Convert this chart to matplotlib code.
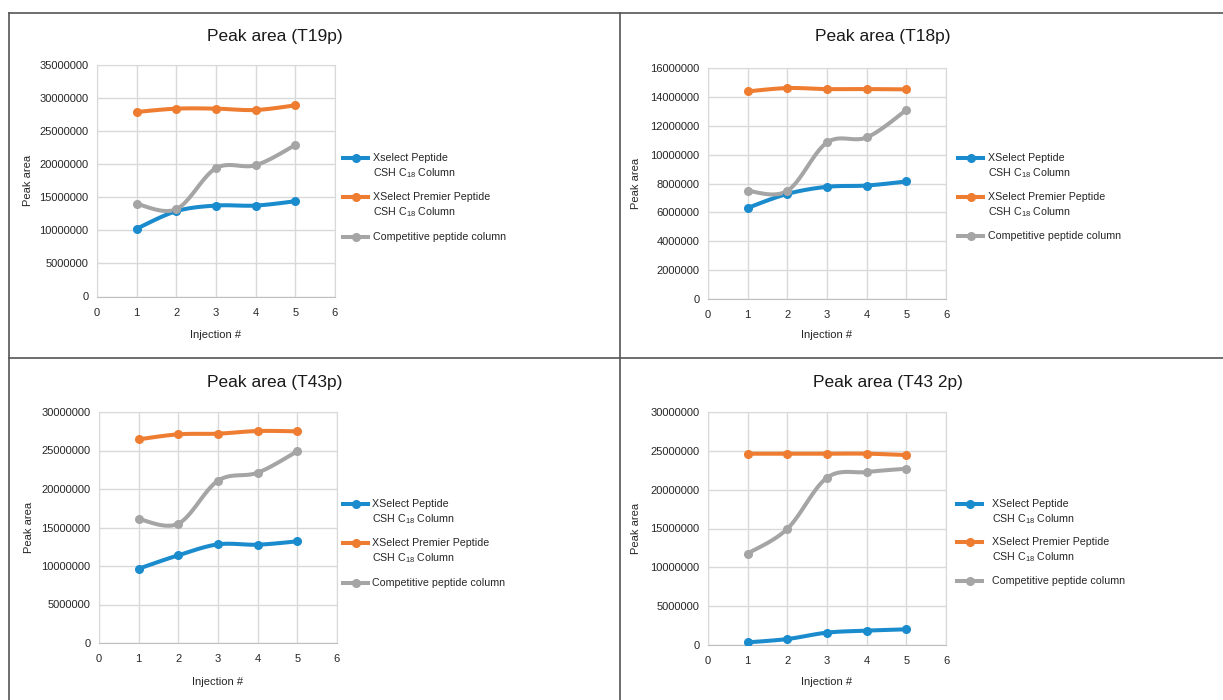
import numpy as np
import matplotlib
matplotlib.use("Agg")
import matplotlib.pyplot as plt
from matplotlib.lines import Line2D

plt.rcParams['font.family'] = ['Liberation Sans', 'DejaVu Sans']
plt.rcParams['mathtext.fontset'] = 'custom'
plt.rcParams['mathtext.rm'] = 'Liberation Sans'
plt.rcParams['mathtext.it'] = 'Liberation Sans'

# data
injections = [1, 2, 3, 4, 5]

titles = ['Peak area (T19p)', 'Peak area (T18p)', 'Peak area (T43p)', 'Peak area (T43 2p)']
y_max = [35000000, 16000000, 30000000, 30000000]
y_step = [5000000, 2000000, 5000000, 5000000]

t19p_xselect = [10250000, 12900000, 13750000, 13750000, 14400000]
t19p_premier = [27900000, 28400000, 28400000, 28200000, 28900000]
t19p_competitive = [14000000, 13200000, 19400000, 19850000, 22900000]

t18p_xselect = [6310000, 7280000, 7770000, 7860000, 8140000]
t18p_premier = [14380000, 14610000, 14540000, 14540000, 14520000]
t18p_competitive = [7490000, 7490000, 10840000, 11190000, 13090000]

t43p_xselect = [9650000, 11390000, 12810000, 12770000, 13200000]
t43p_premier = [26450000, 27100000, 27190000, 27530000, 27490000]
t43p_competitive = [16100000, 15500000, 21080000, 22120000, 24900000]

t43_2p_xselect = [340000, 770000, 1590000, 1850000, 2020000]
t43_2p_premier = [24630000, 24630000, 24630000, 24630000, 24460000]
t43_2p_competitive = [11780000, 14960000, 21540000, 22270000, 22700000]

panel_data = [
    (t19p_xselect, t19p_premier, t19p_competitive),
    (t18p_xselect, t18p_premier, t18p_competitive),
    (t43p_xselect, t43p_premier, t43p_competitive),
    (t43_2p_xselect, t43_2p_premier, t43_2p_competitive),
]

labels_first = ['Xselect Peptide', 'XSelect Peptide', 'XSelect Peptide', 'XSelect Peptide']
label_premier = 'XSelect Premier Peptide'
label_second = r'CSH C$_{\mathrm{18}}$ Column'
label_comp = 'Competitive peptide column'

colors = ['#1a8bcd', '#ee7d31', '#a5a5a5']

W, H = 1223, 700

# layout in pixels: axes (left, right, top, bottom)
axes_px = [(97, 335, 65, 296.5), (708, 946, 68, 299),
           (99, 337, 412, 643), (708, 946, 412, 645)]
title_px = [(275, 37), (883, 37), (275, 383), (888, 383)]
ylabel_x = [28, 636, 29, 636]
xlabel_y = [335, 335, 682, 682]
# legend: handle start x, text x, first-line y of each entry
legend_px = [(343, 373, [158, 197, 237]), (958, 988, [158, 197, 236]),
             (343, 372, [504, 543, 583]), (957, 992, [504, 542, 581])]


def fx(px):
    return px / W


def fy(py):
    return 1 - py / H


def smooth(x, y, n=30):
    # Excel style smoothed line (Catmull-Rom through the points)
    x = np.asarray(x, float)
    y = np.asarray(y, float)
    px = np.concatenate([[x[0]], x, [x[-1]]])
    py = np.concatenate([[y[0]], y, [y[-1]]])
    xs, ys = [], []
    for i in range(1, len(px) - 2):
        t = np.linspace(0, 1, n)
        b0x, b3x = px[i], px[i + 1]
        b0y, b3y = py[i], py[i + 1]
        b1x = b0x + (px[i + 1] - px[i - 1]) / 6
        b1y = b0y + (py[i + 1] - py[i - 1]) / 6
        b2x = b3x - (px[i + 2] - px[i]) / 6
        b2y = b3y - (py[i + 2] - py[i]) / 6
        xs.append((1 - t) ** 3 * b0x + 3 * (1 - t) ** 2 * t * b1x + 3 * (1 - t) * t ** 2 * b2x + t ** 3 * b3x)
        ys.append((1 - t) ** 3 * b0y + 3 * (1 - t) ** 2 * t * b1y + 3 * (1 - t) * t ** 2 * b2y + t ** 3 * b3y)
    return np.concatenate(xs), np.concatenate(ys)


fig = plt.figure(figsize=(W / 100, H / 100), dpi=100)

for k in range(4):
    l, r, t, b = axes_px[k]
    ax = fig.add_axes([fx(l), fy(b), fx(r - l), (b - t) / H])
    for series, c in zip(panel_data[k], colors):
        sx, sy = smooth(injections, series)
        ax.plot(sx, sy, color=c, lw=2.9, solid_capstyle='round', zorder=3)
        ax.plot(injections, series, 'o', color=c, ms=5.5, zorder=4)
    ax.set_xlim(0, 6)
    ax.set_ylim(0, y_max[k])
    ax.set_xticks(range(0, 7))
    ax.set_yticks(np.arange(0, y_max[k] + 1, y_step[k]))
    ax.yaxis.set_major_formatter(plt.FuncFormatter(lambda v, p: '%d' % v))
    ax.grid(True, color='#d9d9d9', lw=1.0)
    ax.set_axisbelow(True)
    for s in ax.spines.values():
        s.set_color('#d9d9d9')
    ax.spines['bottom'].set_color('#bfbfbf')
    ax.tick_params(length=0, labelsize=8, colors='#262626', pad=6)
    ax.tick_params(axis='x', pad=8)

    fig.text(fx(title_px[k][0]), fy(title_px[k][1]), titles[k], fontsize=12.5,
             ha='center', va='center', color='#1a1a1a')
    fig.text(fx(ylabel_x[k]), fy((t + b) / 2), 'Peak area', rotation=90,
             fontsize=8, ha='center', va='center', color='#262626')
    fig.text(fx((l + r) / 2), fy(xlabel_y[k]), 'Injection #', fontsize=8,
             ha='center', va='center', color='#262626')

    # legend
    hx, tx, rows = legend_px[k]
    entries = [[labels_first[k], label_second], [label_premier, label_second], [label_comp]]
    for row_y, lines, c in zip(rows, entries, colors):
        fig.add_artist(Line2D([fx(hx), fx(hx + 25)], [fy(row_y), fy(row_y)],
                              color=c, lw=2.9, transform=fig.transFigure))
        fig.add_artist(Line2D([fx(hx + 12.5)], [fy(row_y)], marker='o', ms=5.5,
                              color=c, transform=fig.transFigure))
        for j, txt in enumerate(lines):
            fig.text(fx(tx), fy(row_y + 15 * j), txt, fontsize=7.7,
                     ha='left', va='center', color='#262626')

# panel frame lines
frame = '#555555'
fig.add_artist(Line2D([fx(9), 1], [fy(13), fy(13)], color=frame, lw=1.2, transform=fig.transFigure))
fig.add_artist(Line2D([fx(9), 1], [fy(357.5), fy(357.5)], color=frame, lw=1.2, transform=fig.transFigure))
fig.add_artist(Line2D([fx(9), fx(9)], [fy(13), 0], color=frame, lw=1.2, transform=fig.transFigure))
fig.add_artist(Line2D([fx(620), fx(620)], [fy(13), 0], color=frame, lw=1.2, transform=fig.transFigure))

fig.savefig('out.png', dpi=100)
